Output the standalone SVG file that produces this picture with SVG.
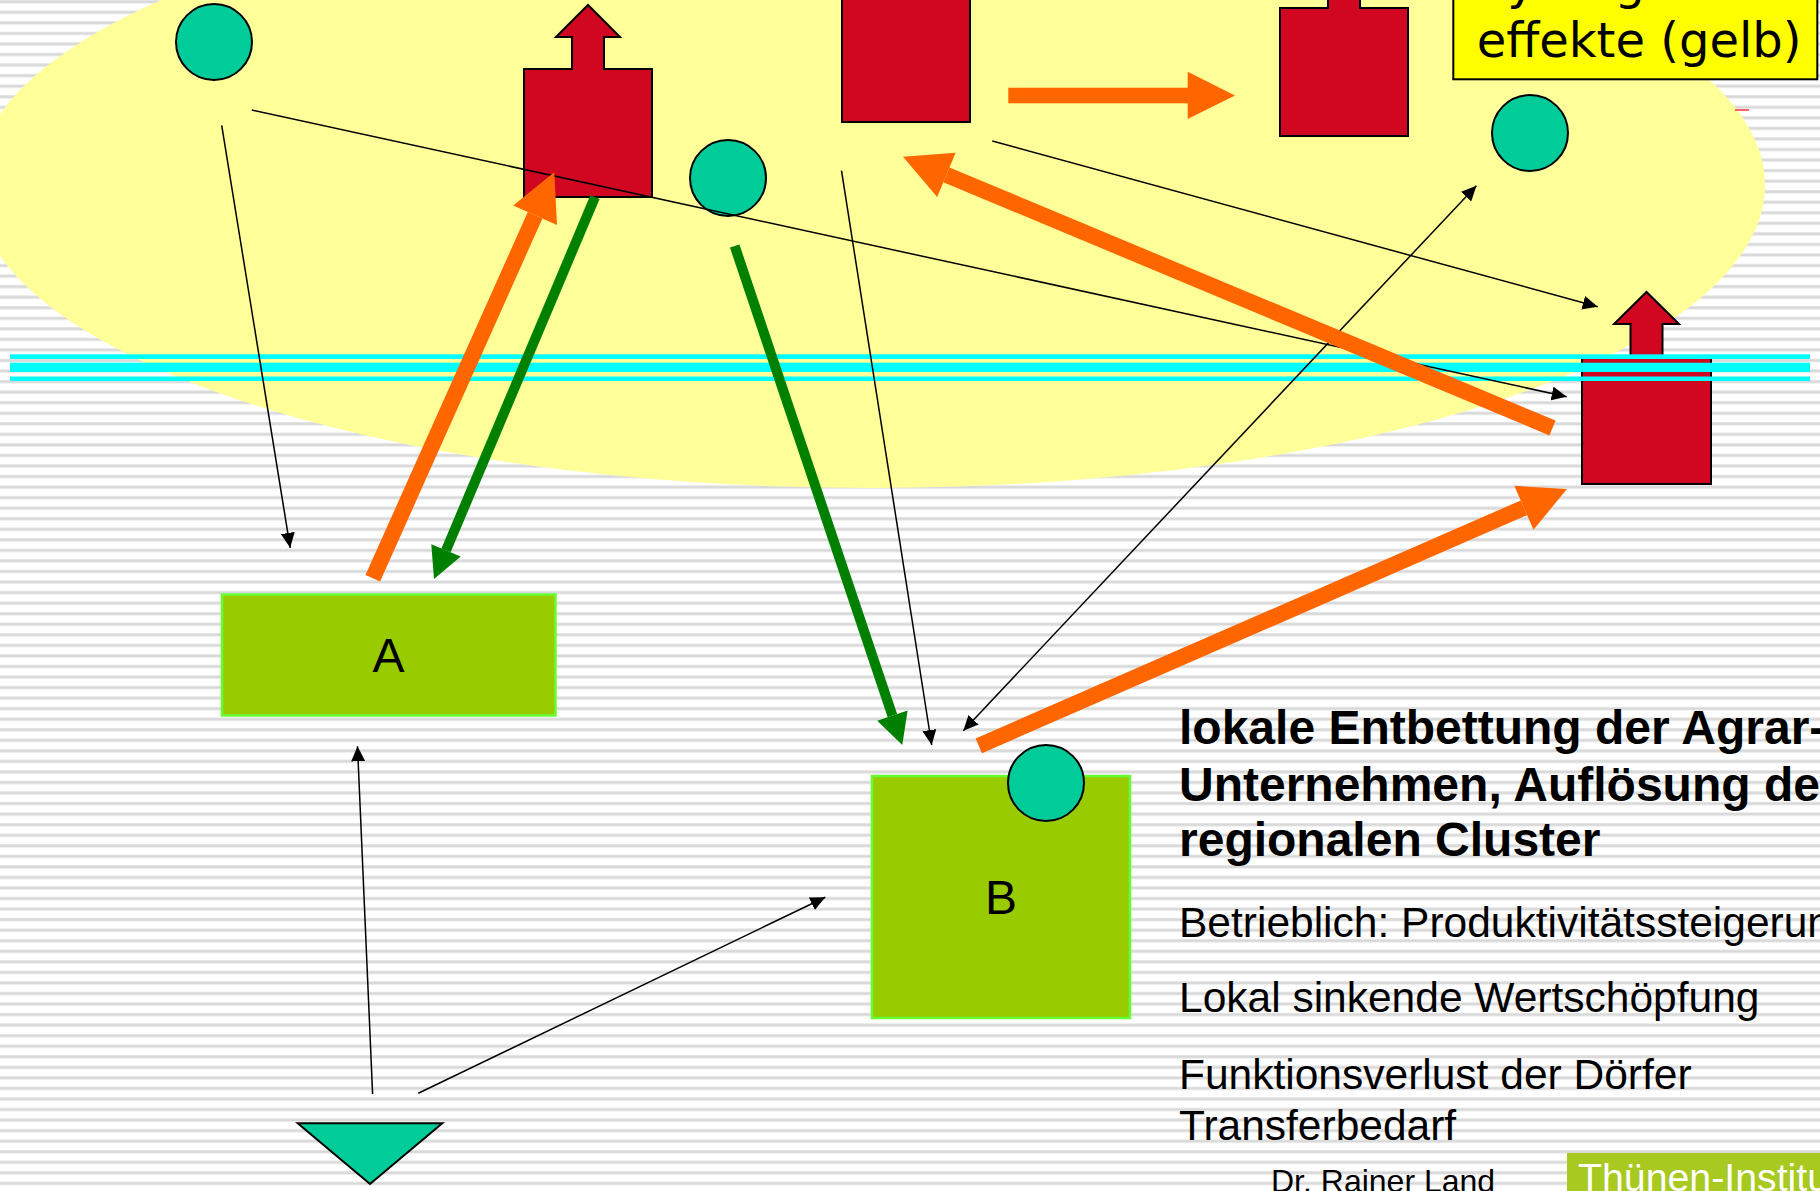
<svg xmlns="http://www.w3.org/2000/svg" width="1820" height="1191" viewBox="0 0 1820 1191">
<defs>
<pattern id="stripes" patternUnits="userSpaceOnUse" x="0" y="0" width="40" height="10.55">
<rect width="40" height="10.55" fill="#ffffff"/>
<rect y="0.3" width="40" height="3" fill="#d9d9d9"/>
</pattern>
<marker id="ah" markerUnits="userSpaceOnUse" markerWidth="16" markerHeight="14" refX="15" refY="7" orient="auto-start-reverse">
<path d="M0,0 L15,7 L0,14 Z" fill="#000"/>
</marker>
<style>
.house{fill:#d10620;stroke:#000;stroke-width:2;stroke-linejoin:miter}
.dot{fill:#00cc99;stroke:#000;stroke-width:2}
.box{fill:#99cc00;stroke:#66ff33;stroke-width:2.5}
.thin{stroke:#000;stroke-width:1.5;fill:none;marker-end:url(#ah)}
.orange{fill:#ff6600}
.green{fill:#008000}
.lbl{font-family:"Liberation Sans",Arial,sans-serif;font-size:48px;fill:#000}
.bold{font-family:"Liberation Sans",Arial,sans-serif;font-size:48px;font-weight:bold;fill:#000}
.reg{font-family:"Liberation Sans",Arial,sans-serif;font-size:42.5px;fill:#000}
.cyan{fill:#00ffff}
</style>
</defs>
<rect id="background" width="1820" height="1191" fill="url(#stripes)"/>
<ellipse id="yellow-area" cx="870" cy="185" rx="895" ry="303" fill="#ffff99"/>

<g id="nodes">
<g id="house-1"><path class="house" d="M524,69 H572 V37 H556 L588,5 L620,37 H604 V69 H652 V197 H524 Z"/></g>
<g id="house-2"><path class="house" d="M842,-6 H890 V-38 H874 L906,-70 L938,-38 H922 V-6 H970 V122 H842 Z"/></g>
<g id="house-3"><path class="house" d="M1280,8 H1328 V-24 H1312 L1344,-56 L1376,-24 H1360 V8 H1408 V136 H1280 Z"/></g>
<g id="house-4"><path class="house" d="M1582,356 H1630.5 V324 H1614 L1646.5,292 L1679,324 H1662.5 V356 H1711 V484 H1582 Z"/></g>
<g id="circle-1"><circle class="dot" cx="214" cy="42" r="38"/></g>
<g id="circle-2"><circle class="dot" cx="728" cy="178" r="38"/></g>
<g id="circle-3"><circle class="dot" cx="1530" cy="133" r="38"/></g>
<g id="box-A"><rect class="box" x="222" y="594.5" width="333.5" height="121"/><text class="lbl" x="388.5" y="672" text-anchor="middle">A</text></g>
<g id="box-B"><rect class="box" x="872" y="776" width="258" height="242"/><text class="lbl" x="1001" y="914" text-anchor="middle">B</text></g>
<g id="circle-4"><circle class="dot" cx="1046" cy="783" r="38"/></g>
<g id="triangle"><path class="dot" d="M297.7,1123.3 L442.3,1123.3 L370,1184 Z"/></g>
<g id="legend">
<rect x="1453.3" y="-10" width="364" height="89.3" fill="#ffff00" stroke="#000" stroke-width="2"/>
<text x="1476.7" y="-1" style="font-family:'DejaVu Sans',Verdana,sans-serif;font-size:48px">Synergie-</text>
<text x="1476.7" y="56.7" style="font-family:'DejaVu Sans',Verdana,sans-serif;font-size:48px">effekte (gelb)</text>
</g>
</g>

<g id="band">
<rect class="cyan" x="10" y="354.3" width="1800" height="4.7"/>
<rect class="cyan" x="10" y="362.7" width="1800" height="9.3"/>
<rect class="cyan" x="10" y="376.5" width="1800" height="4.5"/>
</g>

<g id="connectors">
<line class="thin" x1="221.7" y1="125.3" x2="290.2" y2="547.8"/>
<line class="thin" x1="251.7" y1="110" x2="1566.7" y2="396.7"/>
<line class="thin" x1="992.3" y1="141" x2="1597.7" y2="306.7"/>
<line class="thin" x1="841.5" y1="170.6" x2="931.7" y2="745"/>
<line class="thin" x1="963.3" y1="730.7" x2="1476.4" y2="185.7" marker-start="url(#ah)"/>
<line class="thin" x1="372.6" y1="1094" x2="357.5" y2="746.3"/>
<line class="thin" x1="418.3" y1="1093.3" x2="825.3" y2="897.2"/>
<line x1="1735" y1="110" x2="1749" y2="110" stroke="#ff0000" stroke-width="1.2"/>

<g id="orange-1">
<line x1="372.8" y1="578.3" x2="535.1" y2="215.2" stroke="#ff6600" stroke-width="16"/>
<path class="orange" d="M557,225 L554.3,172.3 L513.2,205.4 Z"/>
</g>
<g id="orange-2">
<line x1="1552.5" y1="428" x2="946.4" y2="174.8" stroke="#ff6600" stroke-width="16"/>
<path class="orange" d="M955.6,152.7 L903,156.7 L937.2,196.9 Z"/>
</g>
<g id="orange-3">
<line x1="978.8" y1="745.8" x2="1523.9" y2="507.8" stroke="#ff6600" stroke-width="16"/>
<path class="orange" d="M1533.5,529.8 L1567,489 L1514.3,485.8 Z"/>
</g>
<g id="orange-4">
<rect class="orange" x="1008.3" y="87.7" width="180" height="15.6"/>
<path class="orange" d="M1187.7,71.7 L1235,95.6 L1187.7,119 Z"/>
</g>
<g id="green-1">
<line x1="595" y1="197" x2="446" y2="550.4" stroke="#008000" stroke-width="10"/>
<path class="green" d="M431.3,544.2 L434,579 L460.7,556.6 Z"/>
</g>
<g id="green-2">
<line x1="734.7" y1="246" x2="892.4" y2="715.6" stroke="#008000" stroke-width="10"/>
<path class="green" d="M877.2,720.7 L902.3,745 L907.6,710.5 Z"/>
</g>
</g>

<g id="texts">
<text class="bold" x="1179" y="743.5">lokale Entbettung der Agrar-</text>
<text class="bold" x="1179" y="800.5">Unternehmen, Auflösung der</text>
<text class="bold" x="1179" y="856">regionalen Cluster</text>
<text class="reg" x="1179" y="937">Betrieblich: Produktivitätssteigerung</text>
<text class="reg" x="1179" y="1012">Lokal sinkende Wertschöpfung</text>
<text class="reg" x="1179" y="1089">Funktionsverlust der Dörfer</text>
<text class="reg" x="1179" y="1140">Transferbedarf</text>
<text x="1271" y="1192" style="font-family:'Liberation Sans',Arial,sans-serif;font-size:32px">Dr. Rainer Land</text>
<rect x="1567" y="1153" width="260" height="40" fill="#a8c920"/>
<text x="1578" y="1191" textLength="262" lengthAdjust="spacingAndGlyphs" style="font-family:'Liberation Sans',Arial,sans-serif;font-size:38px;fill:#ffffff">Thünen-Institut</text>
</g>
</svg>
